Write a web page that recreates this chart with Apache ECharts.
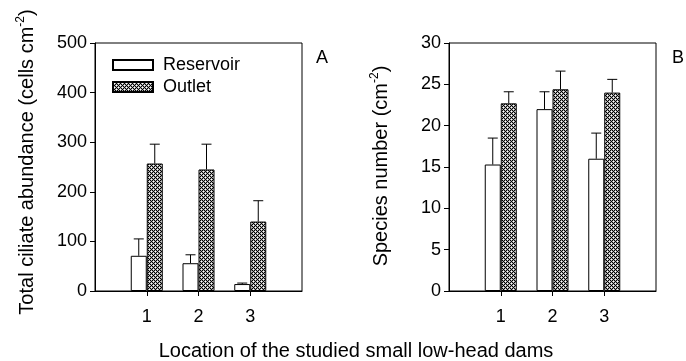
<!DOCTYPE html>
<html>
<head>
<meta charset="utf-8">
<script src="https://cdn.jsdelivr.net/npm/echarts@6/dist/echarts.min.js"></script>
<style>html,body{margin:0;padding:0;background:#fff;}#c{width:686px;height:361px;}</style>
</head>
<body>
<div id="c"></div>
<script>
// ---- data ----
const categories = ['', '1', '2', '3', ''];
const seriesNames = ['Reservoir', 'Outlet'];
// Panel A: total ciliate abundance (cells cm-2)
const reservoirA = [71, 56, 14];
const reservoirAErrTop = [105, 73, 16];
const outletA = [257, 245, 140];
const outletAErrTop = [296, 296, 182];
// Panel B: species number (cm-2)
const reservoirB = [15.3, 22.0, 16.0];
const reservoirBErrTop = [18.5, 24.1, 19.1];
const outletB = [22.7, 24.4, 24.0];
const outletBErrTop = [24.1, 26.6, 25.6];
const yTicksA = [0, 100, 200, 300, 400, 500];
const yTicksB = [0, 5, 10, 15, 20, 25, 30];

const FONT = 'Arial, "Liberation Sans", sans-serif';
const BAR_W = 16;

// crosshatch pattern
const pc = document.createElement('canvas');
pc.width = 4; pc.height = 4;
const g = pc.getContext('2d');
g.fillStyle = '#000'; g.fillRect(0, 0, 4, 4);
g.fillStyle = '#fff'; g.fillRect(1, 1, 1, 1); g.fillRect(3, 3, 1, 1);
g.fillStyle = '#aaa';
[[0,1],[2,1],[1,0],[1,2],[2,3],[0,3],[3,2],[3,0]].forEach(p => g.fillRect(p[0], p[1], 1, 1));
const hatch = { image: pc, repeat: 'repeat' };

function pad(arr) { return ['-'].concat(arr, ['-']); }

function errSeries(vals, tops, gridIdx, side) {
  const data = vals.map((v, i) => [i + 1, v, tops[i]]);
  return {
    type: 'custom', xAxisIndex: gridIdx, yAxisIndex: gridIdx, silent: true, z: 5,
    encode: { x: 0, y: [1, 2] },
    renderItem: function (params, api) {
      const p0 = api.coord([api.value(0), api.value(1)]);
      const p1 = api.coord([api.value(0), api.value(2)]);
      const x = p0[0] + side * BAR_W / 2;
      return {
        type: 'group', children: [
          { type: 'line', shape: { x1: x, y1: p0[1], x2: x, y2: p1[1] }, style: { stroke: '#000', lineWidth: 1 } },
          { type: 'line', shape: { x1: x - 5, y1: p1[1], x2: x + 5, y2: p1[1] }, style: { stroke: '#000', lineWidth: 1 } }
        ]
      };
    },
    data: data
  };
}

function xAxis(gridIdx) {
  return {
    type: 'category', gridIndex: gridIdx, data: categories, boundaryGap: false,
    axisLine: { lineStyle: { color: '#000', width: 1 } },
    axisTick: { length: 5, lineStyle: { color: '#000' }, interval: function (i) { return i > 0 && i < 4; } },
    axisLabel: { color: '#000', fontSize: 18, fontFamily: FONT, margin: 17, interval: 0 },
    splitLine: { show: false }
  };
}
function yAxis(gridIdx, ticks) {
  return {
    type: 'value', gridIndex: gridIdx, min: ticks[0], max: ticks[ticks.length - 1],
    interval: ticks[1] - ticks[0],
    axisLine: { show: true, lineStyle: { color: '#000', width: 1 } },
    axisTick: { show: true, length: 5, lineStyle: { color: '#000' } },
    axisLabel: { color: '#000', fontSize: 18, fontFamily: FONT, margin: 8 },
    splitLine: { show: false }
  };
}
function barSeries(name, vals, gridIdx, isHatch) {
  return {
    type: 'bar', name: name, xAxisIndex: gridIdx, yAxisIndex: gridIdx,
    barWidth: BAR_W, barGap: '0%', data: pad(vals),
    itemStyle: { color: isHatch ? hatch : '#fff', borderColor: '#000', borderWidth: 1 },
    emphasis: { disabled: true }, animation: false
  };
}
const titleRich = {
  m: { fontSize: 20, fontFamily: FONT, fill: '#000', lineHeight: 24 },
  sup: { fontSize: 12, fontFamily: FONT, fill: '#000', verticalAlign: 'top', lineHeight: 24 }
};
function yTitle(x, y, main) {
  return {
    type: 'text', x: x, y: y, rotation: Math.PI / 2,
    style: { text: '{m|' + main + '}{sup|-2}{m|)}', rich: titleRich, align: 'center', verticalAlign: 'middle', fill: '#000' }
  };
}

const chart = echarts.init(document.getElementById('c'), null, { renderer: 'canvas' });
chart.setOption({
  animation: false,
  backgroundColor: '#fff',
  grid: [
    { left: 95, top: 43, width: 207, height: 248, show: true, borderColor: '#000', borderWidth: 1, backgroundColor: 'transparent' },
    { left: 449, top: 43, width: 207, height: 248, show: true, borderColor: '#000', borderWidth: 1, backgroundColor: 'transparent' }
  ],
  legend: {
    data: seriesNames, orient: 'vertical', left: 107, top: 51, icon: 'rect',
    itemWidth: 40, itemHeight: 10, itemGap: 4,
    textStyle: { color: '#000', fontSize: 18, fontFamily: FONT, padding: [0, 0, 0, 5] },
    selectedMode: false
  },
  xAxis: [xAxis(0), xAxis(1)],
  yAxis: [yAxis(0, yTicksA), yAxis(1, yTicksB)],
  graphic: [
    yTitle(27, 162, 'Total ciliate abundance (cells cm'),
    yTitle(381, 166, 'Species number (cm'),
    { type: 'text', left: 316, top: 49, style: { text: 'A', fontSize: 18, fontFamily: FONT, fill: '#000' } },
    { type: 'text', left: 672, top: 49, style: { text: 'B', fontSize: 18, fontFamily: FONT, fill: '#000' } },
    { type: 'text', x: 356, y: 351, style: { text: 'Location of the studied small low-head dams', fontSize: 20, fontFamily: FONT, fill: '#000', align: 'center', verticalAlign: 'middle' } }
  ],
  series: [
    barSeries(seriesNames[0], reservoirA, 0, false),
    barSeries(seriesNames[1], outletA, 0, true),
    errSeries(reservoirA, reservoirAErrTop, 0, -1),
    errSeries(outletA, outletAErrTop, 0, 1),
    barSeries(seriesNames[0], reservoirB, 1, false),
    barSeries(seriesNames[1], outletB, 1, true),
    errSeries(reservoirB, reservoirBErrTop, 1, -1),
    errSeries(outletB, outletBErrTop, 1, 1)
  ]
});
</script>
</body>
</html>
